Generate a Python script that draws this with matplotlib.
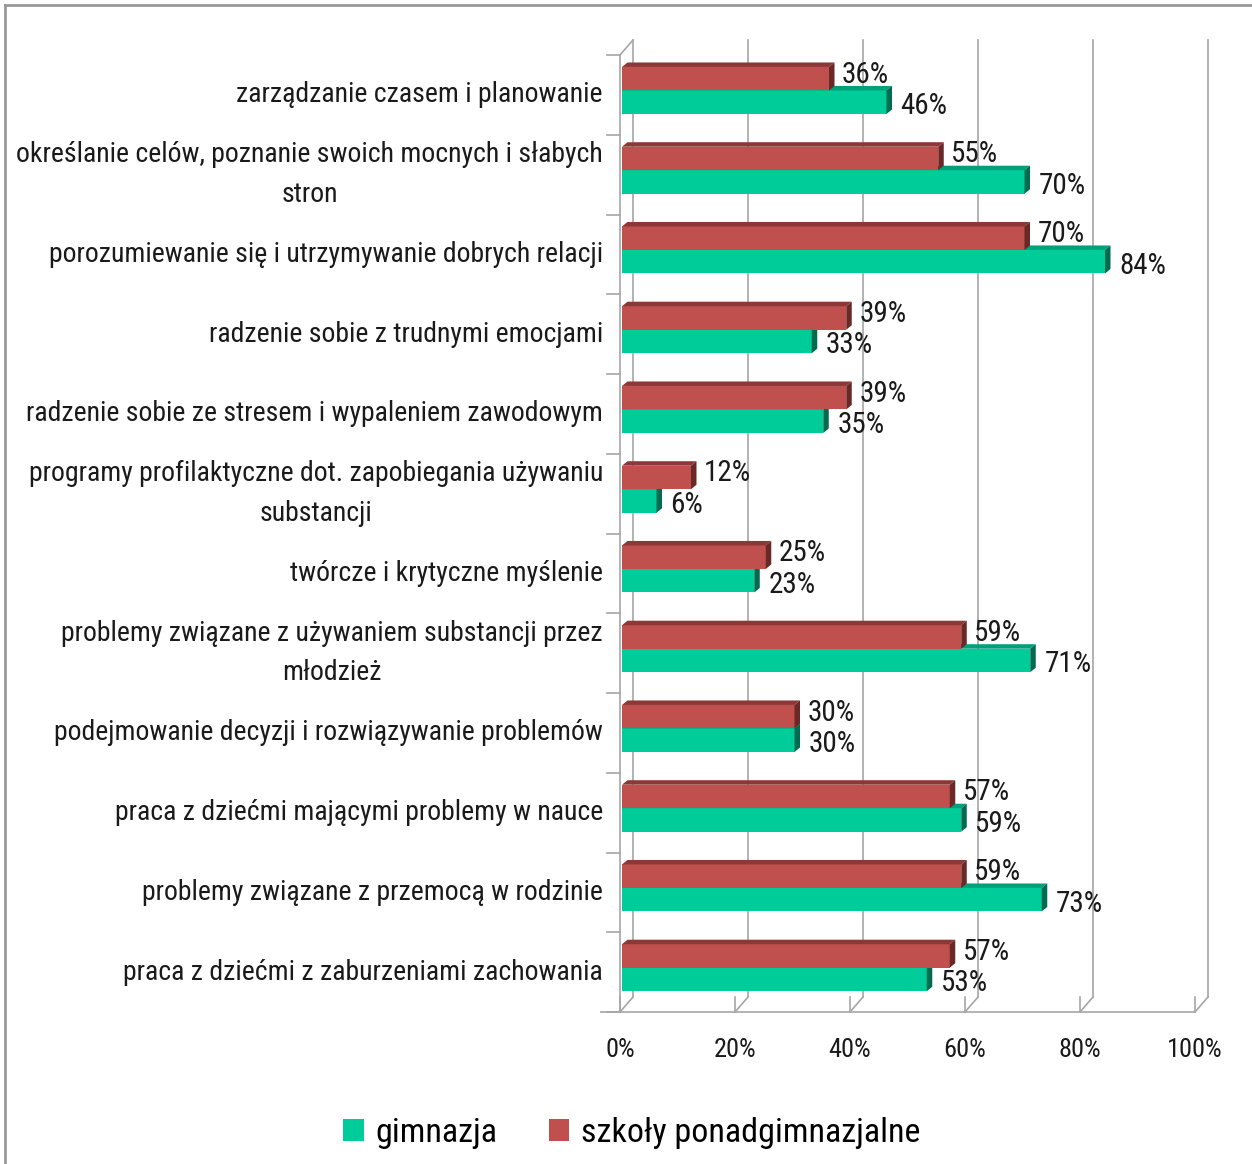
import matplotlib
matplotlib.use("Agg")
import matplotlib.pyplot as plt
from matplotlib import font_manager
from matplotlib.patches import Polygon, Rectangle, Patch
from matplotlib.lines import Line2D

categories = [
    "zarządzanie czasem i planowanie",
    "określanie celów, poznanie swoich mocnych i słabych\nstron",
    "porozumiewanie się i utrzymywanie dobrych relacji",
    "radzenie sobie z trudnymi emocjami",
    "radzenie sobie ze stresem i wypaleniem zawodowym",
    "programy profilaktyczne dot. zapobiegania używaniu\nsubstancji",
    "twórcze i krytyczne myślenie",
    "problemy związane z używaniem substancji przez\nmłodzież",
    "podejmowanie decyzji i rozwiązywanie problemów",
    "praca z dziećmi mającymi problemy w nauce",
    "problemy związane z przemocą w rodzinie",
    "praca z dziećmi z zaburzeniami zachowania",
]
gimnazja = [46, 70, 84, 33, 35, 6, 23, 71, 30, 59, 73, 53]
ponadgimnazjalne = [36, 55, 70, 39, 39, 12, 25, 59, 30, 57, 59, 57]
xticks = [0, 20, 40, 60, 80, 100]
xticklabels = ["0%", "20%", "40%", "60%", "80%", "100%"]
series_names = ["gimnazja", "szkoły ponadgimnazjalne"]

names = {f.name for f in font_manager.fontManager.ttflist}
narrow = None
for cand in ["Liberation Sans Narrow", "Arial Narrow", "Roboto Condensed", "Open Sans Condensed"]:
    if cand in names:
        narrow = cand
        break
if narrow:
    plt.rcParams['font.family'] = [narrow, 'DejaVu Sans']
    scale = 1.0
else:
    plt.rcParams['font.family'] = ['DejaVu Sans']
    plt.rcParams['font.stretch'] = 'condensed'
    scale = 0.8

W, H = 1252, 1164
fig = plt.figure(figsize=(W / 100, H / 100), dpi=100)

# pixel geometry
x0px, sx = 620.0, 5.75
y0px, sy = 55.0, (1012 - 55) / 12.0
axL, axR, axT, axB = 600, 1225, 30, 1020
ax = fig.add_axes([axL / W, 1 - axB / H, (axR - axL) / W, (axB - axT) / H])
ax.set_xlim((axL - x0px) / sx, (axR - x0px) / sx)
ax.set_ylim((axB - y0px) / sy - 0.5, (axT - y0px) / sy - 0.5)
ax.axis('off')

def dxp(p):
    return p / sx

def dyp(p):
    return -p / sy

n = len(categories)
grid_c = "#A6A6A6"
bx, by = dxp(13), dyp(15)
ybot, ytop = n - 0.5, -0.5

# back wall gridlines & floor lines
for v in xticks:
    ax.add_line(Line2D([v + bx, v + bx], [ytop + by, ybot + by], color=grid_c, lw=1.2, zorder=1))
    ax.add_line(Line2D([v, v + bx], [ybot, ybot + by], color=grid_c, lw=1.2, zorder=1))
    ax.add_line(Line2D([v, v], [ybot, ybot - dyp(-15)], color=grid_c, lw=1.2, zorder=1))
# left wall
ax.add_line(Line2D([0, 0], [ytop, ybot], color=grid_c, lw=1.2, zorder=1))
ax.add_line(Line2D([0, bx], [ytop, ytop + by], color=grid_c, lw=1.2, zorder=1))
for i in range(n + 1):
    yy = i - 0.5
    ax.add_line(Line2D([dxp(-13), 0], [yy, yy], color=grid_c, lw=1.2, zorder=1))
# front bottom axis
ax.add_line(Line2D([dxp(-20), 100], [ybot, ybot], color=grid_c, lw=1.2, zorder=1))

# bar geometry
bh = 23.5 / sy
red_top = -0.35
green_top = red_top + bh
ddx, ddy = dxp(5.5), dyp(4.5)

def bar3d(v, ytop_b, front, top, side, z):
    x_s = dxp(2)
    ax.add_patch(Rectangle((x_s, ytop_b), v, bh, facecolor=front, edgecolor='none', zorder=z))
    ax.add_patch(Polygon([(x_s, ytop_b), (x_s + v, ytop_b), (x_s + v + ddx, ytop_b + ddy), (x_s + ddx, ytop_b + ddy)],
                         closed=True, facecolor=top, edgecolor='none', zorder=z))
    ax.add_patch(Polygon([(x_s + v, ytop_b), (x_s + v + ddx, ytop_b + ddy), (x_s + v + ddx, ytop_b + bh + ddy),
                          (x_s + v, ytop_b + bh)],
                         closed=True, facecolor=side, edgecolor='none', zorder=z))

green_c = ("#00CC99", "#00A07A", "#006B4F")
red_c = ("#C0504D", "#8C3836", "#6A2826")

lbl_fs = 21 * scale
for i in range(n):
    bar3d(gimnazja[i], i + green_top, *green_c, z=3 + 2 * i)
    bar3d(ponadgimnazjalne[i], i + red_top, *red_c, z=4 + 2 * i)
    ax.text(ponadgimnazjalne[i] + dxp(15), i + red_top + bh / 2 + dyp(4),
            f"{ponadgimnazjalne[i]}%", ha='left', va='center', fontsize=lbl_fs, color='#1a1a1a', zorder=40)
    ax.text(gimnazja[i] + dxp(16), i + green_top + bh / 2 - dyp(4),
            f"{gimnazja[i]}%", ha='left', va='center', fontsize=lbl_fs, color='#1a1a1a', zorder=40)
    ax.text(dxp(-17), i, categories[i], ha='right', va='center', multialignment='center',
            fontsize=20 * scale, color='#1a1a1a', linespacing=1.6)

for v, t in zip(xticks, xticklabels):
    ax.text(v, ybot + (1050 - 1012) / sy, t, ha='center', va='center', fontsize=19 * scale, color='#1a1a1a')

# legend
handles = [Patch(facecolor=green_c[0], edgecolor='none'), Patch(facecolor=red_c[0], edgecolor='none')]
fig.legend(handles, series_names, loc='center', bbox_to_anchor=(632 / W, 1 - 1133 / H), ncol=2,
           frameon=False, fontsize=24.5 * scale, handlelength=0.6, handleheight=0.6,
           handletextpad=0.35, columnspacing=1.5)

# outer border (top and left)
fig.add_artist(Line2D([5 / W, 1], [1 - 5 / H, 1 - 5 / H], transform=fig.transFigure, color='#999999', lw=2))
fig.add_artist(Line2D([5 / W, 5 / W], [1 - 5 / H, 0], transform=fig.transFigure, color='#999999', lw=2))

fig.savefig("out.png", dpi=100)
